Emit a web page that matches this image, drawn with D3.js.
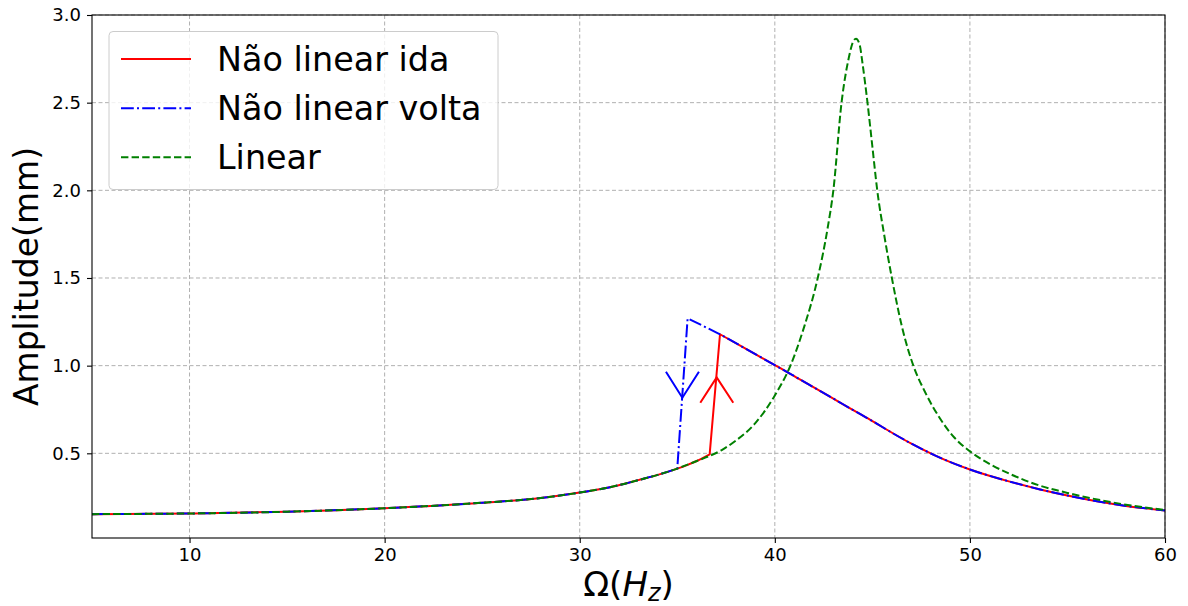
<!DOCTYPE html>
<html>
<head>
<meta charset="utf-8">
<script src="https://cdn.jsdelivr.net/npm/d3@7"></script>
<style>
  html, body { margin: 0; padding: 0; background: #ffffff; }
  svg { display: block; font-family: "DejaVu Sans", sans-serif; }
</style>
</head>
<body>
<svg id="chart" width="1188" height="606"></svg>
<script>
// ---------------- data ----------------
const xTicks = [10, 20, 30, 40, 50, 60];
const yTicks = [0.5, 1.0, 1.5, 2.0, 2.5, 3.0];

// Não linear ida (forward sweep)
const idaOmega = [5, 10, 15, 20, 25, 28, 30, 31, 32, 33, 34, 35, 35.5, 36, 36.66,
                  37.19, 38.5, 40.0, 40.77, 41.71, 43, 44.02, 45, 46.07, 47, 48.12, 49, 50, 52, 53.6, 55, 56.15, 58, 60];
const idaAmp   = [0.153, 0.157, 0.167, 0.187, 0.218, 0.245, 0.276, 0.295, 0.318, 0.347, 0.377, 0.413, 0.433, 0.456, 0.494,
                  1.179, 1.097, 1.003, 0.955, 0.894, 0.812, 0.746, 0.684, 0.613, 0.555, 0.493, 0.450, 0.408, 0.340, 0.294, 0.259, 0.234, 0.200, 0.174];
const idaCorners = [36.66, 37.19];

// Não linear volta (backward sweep)
const voltaOmega = [5, 10, 15, 20, 25, 28, 30, 31, 32, 33, 34, 35.0,
                    35.53, 37.19, 38.5, 40.0, 40.77, 41.71, 43, 44.02, 45, 46.07, 47, 48.12, 49, 50, 52, 53.6, 55, 56.15, 58, 60];
const voltaAmp   = [0.153, 0.157, 0.167, 0.187, 0.218, 0.245, 0.276, 0.295, 0.318, 0.347, 0.377, 0.413,
                    1.270, 1.179, 1.097, 1.003, 0.955, 0.894, 0.812, 0.746, 0.684, 0.613, 0.555, 0.493, 0.450, 0.408, 0.340, 0.294, 0.259, 0.234, 0.200, 0.174];
const voltaCorners = [35.0, 35.53, 37.19];

// Linear
const linOmega = [5, 10, 15, 20, 25, 28, 30, 32, 33, 34, 35, 36, 37.3, 38, 39, 40, 40.8, 41.5, 42.2, 42.7, 43.0, 43.42, 43.8, 44.0, 44.16,
                  44.35, 44.5, 44.75, 45.0, 45.25, 45.6, 46.0, 46.5, 47.1, 47.7, 48.46, 49.2, 50.08, 51, 52, 53.6, 55, 56.15, 58, 60];
const linAmp   = [0.153, 0.157, 0.167, 0.187, 0.218, 0.245, 0.276, 0.318, 0.347, 0.377, 0.413, 0.456, 0.52, 0.572, 0.672, 0.83, 1.0, 1.22, 1.5, 1.78, 2.0, 2.5, 2.76, 2.845, 2.865,
                  2.83, 2.72, 2.5, 2.25, 2.0, 1.75, 1.5, 1.23, 1.0, 0.85, 0.70, 0.59, 0.505, 0.44, 0.385, 0.315, 0.274, 0.245, 0.207, 0.177];

// jump arrows
const voltaArrowOmega = [34.42, 35.26, 36.11];
const voltaArrowAmp   = [0.965, 0.817, 0.965];
const idaArrowOmega   = [36.18, 37.02, 37.87];
const idaArrowAmp     = [0.788, 0.933, 0.788];

const legendLabels = ["Não linear ida", "Não linear volta", "Linear"];

// ---------------- layout ----------------
const W = 1188, H = 606;
const margin = { left: 92, top: 15, right: 23, bottom: 68 };
const svg = d3.select("#chart");

const x = d3.scaleLinear().domain([5, 60]).range([margin.left, W - margin.right]);
const y = d3.scaleLinear().domain([0.017, 3.0]).range([H - margin.bottom, margin.top]);

const plotL = margin.left, plotR = W - margin.right, plotT = margin.top, plotB = H - margin.bottom;

svg.append("defs").append("clipPath").attr("id", "clip")
  .append("rect").attr("x", plotL).attr("y", plotT).attr("width", plotR - plotL).attr("height", plotB - plotT);

// grid
const grid = svg.append("g");
grid.selectAll(".gx").data(xTicks).enter().append("line")
  .attr("x1", d => x(d)).attr("x2", d => x(d)).attr("y1", plotT).attr("y2", plotB)
  .attr("stroke", "#b0b0b0").attr("stroke-width", 1).attr("stroke-dasharray", "4,2.5");
grid.selectAll(".gy").data(yTicks).enter().append("line")
  .attr("x1", plotL).attr("x2", plotR).attr("y1", d => y(d)).attr("y2", d => y(d))
  .attr("stroke", "#b0b0b0").attr("stroke-width", 1).attr("stroke-dasharray", "4,2.5");

// helper: smooth pieces split at corner points, joined into a single path
function piecewisePath(xs, ys, corners) {
  const pts = xs.map((v, i) => [v, ys[i]]);
  const idx = [0];
  corners.forEach(c => { const k = xs.indexOf(c); if (k > 0) idx.push(k); });
  idx.push(pts.length - 1);
  const line = d3.line().x(d => x(d[0])).y(d => y(d[1])).curve(d3.curveMonotoneX);
  let out = "";
  for (let i = 0; i < idx.length - 1; i++) {
    const piece = pts.slice(idx[i], idx[i + 1] + 1);
    let p = line(piece);
    if (i > 0) p = "L" + p.slice(1);
    out += p;
  }
  return out;
}

const plot = svg.append("g").attr("clip-path", "url(#clip)");
const LW = 2;

plot.append("path").attr("d", piecewisePath(idaOmega, idaAmp, idaCorners))
  .attr("fill", "none").attr("stroke", "#ff0000").attr("stroke-width", LW);
plot.append("path").attr("d", piecewisePath(voltaOmega, voltaAmp, voltaCorners))
  .attr("fill", "none").attr("stroke", "#0000ff").attr("stroke-width", LW)
  .attr("stroke-dasharray", "12.8,3.2,2,3.2");
plot.append("path").attr("d", piecewisePath(linOmega, linAmp, []))
  .attr("fill", "none").attr("stroke", "#008000").attr("stroke-width", LW)
  .attr("stroke-dasharray", "7.4,3.2");

const straight = d3.line().x(d => x(d[0])).y(d => y(d[1]));
plot.append("path").attr("d", straight(voltaArrowOmega.map((v, i) => [v, voltaArrowAmp[i]])))
  .attr("fill", "none").attr("stroke", "#0000ff").attr("stroke-width", LW);
plot.append("path").attr("d", straight(idaArrowOmega.map((v, i) => [v, idaArrowAmp[i]])))
  .attr("fill", "none").attr("stroke", "#ff0000").attr("stroke-width", LW);

// axes
const xAxis = svg.append("g").attr("transform", `translate(0,${plotB})`)
  .call(d3.axisBottom(x).tickValues(xTicks).tickFormat(d3.format("d")).tickSizeInner(5).tickSizeOuter(0).tickPadding(5));
const yAxis = svg.append("g").attr("transform", `translate(${plotL},0)`)
  .call(d3.axisLeft(y).tickValues(yTicks).tickFormat(d3.format(".1f")).tickSizeInner(5).tickSizeOuter(0).tickPadding(6));
[xAxis, yAxis].forEach(a => {
  a.select(".domain").remove();
  a.selectAll("text").attr("font-size", 18).attr("font-family", "DejaVu Sans").attr("fill", "#000");
  a.selectAll("line").attr("stroke", "#000").attr("stroke-width", 1.1);
});

// frame
svg.append("rect").attr("x", plotL).attr("y", plotT).attr("width", plotR - plotL).attr("height", plotB - plotT)
  .attr("fill", "none").attr("stroke", "#000").attr("stroke-width", 1.1);

// axis labels
svg.append("text").attr("transform", `translate(38,${(plotT + plotB) / 2}) rotate(-90)`)
  .attr("text-anchor", "middle").attr("font-size", 33).attr("fill", "#000").text("Amplitude(mm)");

const xl = svg.append("text").attr("x", (plotL + plotR) / 2).attr("y", 596)
  .attr("text-anchor", "middle").attr("font-size", 34).attr("fill", "#000");
xl.append("tspan").text("Ω(");
xl.append("tspan").attr("font-style", "italic").text("H");
xl.append("tspan").attr("font-style", "italic").attr("font-size", 24).attr("dy", 5).text("z");
xl.append("tspan").attr("dy", -5).text(")");

// legend
const lg = svg.append("g");
lg.append("rect").attr("x", 109).attr("y", 31.5).attr("width", 389).attr("height", 158).attr("rx", 4)
  .attr("fill", "#ffffff").attr("fill-opacity", 0.8).attr("stroke", "#cccccc").attr("stroke-width", 1);
const lgStyles = [
  { color: "#ff0000", dash: null },
  { color: "#0000ff", dash: "12.8,3.2,2,3.2" },
  { color: "#008000", dash: "7.4,3.2" }
];
const rowY = [59, 108.3, 157.3];
legendLabels.forEach((lab, i) => {
  const l = lg.append("line").attr("x1", 121).attr("x2", 191).attr("y1", rowY[i]).attr("y2", rowY[i])
    .attr("stroke", lgStyles[i].color).attr("stroke-width", LW);
  if (lgStyles[i].dash) l.attr("stroke-dasharray", lgStyles[i].dash);
  lg.append("text").attr("x", 217).attr("y", rowY[i] + 12).attr("font-size", 33.4).attr("fill", "#000").text(lab);
});
</script>
</body>
</html>
